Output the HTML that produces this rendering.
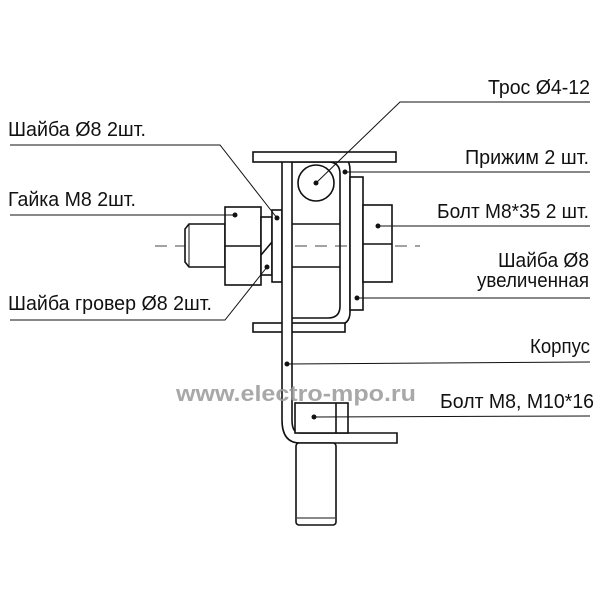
<!DOCTYPE html>
<html><head><meta charset="utf-8"><style>body{margin:0;background:#fff}svg{display:block}</style></head>
<body>
<svg width="600" height="600" viewBox="0 0 600 600" xmlns="http://www.w3.org/2000/svg" font-family="Liberation Sans, DejaVu Sans, sans-serif">
<g fill="#fff" stroke="#111" stroke-width="1.6">
<line x1="155" y1="246" x2="420" y2="246" stroke-dasharray="12,8" stroke-width="1" stroke="#444"/>
<path d="M225 224 L189 224 L185 229 L185 262 L189 267 L225 267 Z"/>
<line x1="189" y1="224" x2="189" y2="267" stroke-width="1"/>
<rect x="225" y="207" width="36" height="78"/>
<line x1="225" y1="246" x2="261" y2="246"/>
<rect x="261" y="217" width="11" height="58"/>
<line x1="261" y1="255" x2="272" y2="242"/>
<rect x="272" y="210" width="10" height="72"/>
<path fill="none" d="M292 155 L335 155 Q350 155 350 170 L350 312 Q350 325 337 325 L292 325"/>
<path fill="none" d="M292 162 L328 162 Q340 162 340 174 L340 306 Q340 318 328 318 L292 318"/>
<line x1="292" y1="224" x2="340" y2="224"/>
<line x1="292" y1="267" x2="340" y2="267"/>
<rect x="253" y="323" width="92" height="9"/>
<path d="M282 160 L282 420 Q282 443 300 443 L397 443 L397 433 L300 433 Q292 433 292 420 L292 160" />
<rect x="253" y="152" width="143" height="10"/>
<circle cx="316" cy="183" r="18"/>
<rect x="350" y="177" width="13" height="133"/>
<rect x="363" y="205" width="29" height="77"/>
<line x1="363" y1="244" x2="392" y2="244"/>
<rect x="296" y="443" width="40" height="82" rx="3"/>
<line x1="297" y1="518" x2="335" y2="518" stroke-width="1"/>
<rect x="295" y="403" width="53" height="30"/>
<line x1="336" y1="403" x2="336" y2="433"/>
</g>
<g stroke="#111" stroke-width="1" fill="none">
<polyline points="316,183 400,102 590,102"/>
<polyline points="10,145 220,145 277,218"/>
<polyline points="10,215 235,215"/>
<polyline points="10,320 225,320 267,267"/>
<polyline points="345,172 590,172"/>
<polyline points="378,226 590,226"/>
<polyline points="357,298 590,298"/>
<polyline points="287,364 590,362"/>
<polyline points="314,417 590,416"/>
</g>
<g fill="#111">
<circle cx="316" cy="183" r="2.5"/><circle cx="277" cy="218" r="2.5"/><circle cx="235" cy="215" r="2.5"/>
<circle cx="267" cy="267" r="2.5"/><circle cx="345" cy="172" r="2.5"/><circle cx="378" cy="226" r="2.5"/>
<circle cx="357" cy="298" r="2.5"/><circle cx="287" cy="364" r="2.5"/><circle cx="314" cy="417" r="2.5"/>
</g>
<text x="176" y="401" font-size="22" font-weight="bold" fill="#999" opacity="0.85" textLength="240" lengthAdjust="spacingAndGlyphs">www.electro-mpo.ru</text>
<g font-size="20" fill="#111">
<text x="488" y="94" textLength="102" lengthAdjust="spacingAndGlyphs">Трос Ø4-12</text>
<text x="8" y="136" textLength="138" lengthAdjust="spacingAndGlyphs">Шайба Ø8 2шт.</text>
<text x="465" y="164" textLength="124" lengthAdjust="spacingAndGlyphs">Прижим 2 шт.</text>
<text x="8" y="206" textLength="128" lengthAdjust="spacingAndGlyphs">Гайка М8 2шт.</text>
<text x="437" y="218" textLength="152" lengthAdjust="spacingAndGlyphs">Болт М8*35 2 шт.</text>
<text x="498" y="267" textLength="91" lengthAdjust="spacingAndGlyphs">Шайба Ø8</text>
<text x="477" y="287" textLength="112" lengthAdjust="spacingAndGlyphs">увеличенная</text>
<text x="8" y="310" textLength="204" lengthAdjust="spacingAndGlyphs">Шайба гровер Ø8 2шт.</text>
<text x="530" y="353" textLength="60" lengthAdjust="spacingAndGlyphs">Корпус</text>
<text x="440" y="408" textLength="154" lengthAdjust="spacingAndGlyphs">Болт М8, М10*16</text>
</g>
</svg>
</body></html>
